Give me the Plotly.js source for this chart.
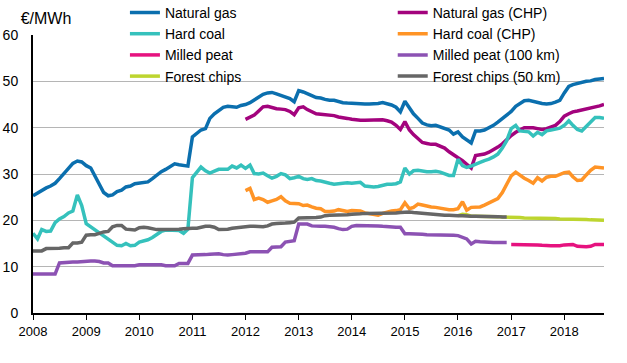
<!DOCTYPE html>
<html>
<head>
<meta charset="utf-8">
<script src="https://cdn.plot.ly/plotly-3.0.1.min.js"></script>
<style>html,body{margin:0;padding:0;background:#fff}#chart{width:627px;height:363px}</style>
</head>
<body>
<div id="chart"></div>
<script>
// Monthly prices, €/MWh, from January 2008 (index 0) to October 2018 (index 129)
const startYear = 2008;
const monthCount = 130;

const unitLabel = "€/MWh";
const seriesNames = ["Natural gas", "Natural gas (CHP)", "Hard coal", "Hard coal (CHP)",
                     "Milled peat", "Milled peat (100 km)", "Forest chips", "Forest chips (50 km)"];
const tickYears = ["2008","2009","2010","2011","2012","2013","2014","2015","2016","2017","2018"];

// Natural gas, from 2008-01
const naturalGas = [
  25.3, 25.9, 26.3, 27.0, 27.4, 28.0, 29.0, 30.0, 31.2, 32.3, 32.8, 32.6,
  31.8, 31.3, 29.5, 27.5, 26.0, 25.3, 25.5, 26.2, 26.5, 27.2, 27.4, 27.9,
  28.0, 28.1, 28.3, 29.0, 29.8, 30.5, 31.0, 31.6, 32.2, 32.0, 31.8, 31.7,
  38.0, 38.9, 39.5, 39.8, 42.0, 43.0, 43.8, 44.4, 44.6, 44.5, 44.4, 44.8,
  45.0, 45.4, 46.0, 46.6, 47.2, 47.5, 47.6, 47.3, 47.0, 46.7, 46.3, 45.6,
  48.0, 47.7, 47.4, 46.9, 46.5, 46.4, 46.1, 45.9, 45.9, 45.6, 45.4, 45.3,
  45.2, 45.1, 45.1, 45.1, 45.1, 45.1, 45.2, 45.4, 45.2, 44.9, 44.4, 43.4,
  45.7, 44.2, 43.0, 42.0, 41.0, 40.6, 40.4, 40.5, 40.2, 39.8, 39.5, 38.6,
  39.1, 38.0, 37.3, 36.7, 39.3, 39.3, 39.5, 40.0, 40.5, 41.2, 42.0, 42.7,
  43.5, 44.6, 45.2, 45.8, 45.9, 45.6, 45.4, 45.2, 45.1, 45.2, 45.5, 45.9,
  47.5, 48.9, 49.3, 49.6, 49.8, 50.0, 50.1, 50.4, 50.5, 50.6
];

// Hard coal, from 2008-01
const hardCoal = [
  17.2, 16.0, 18.0, 17.6, 17.7, 19.5, 20.3, 20.8, 21.6, 22.0, 25.5, 23.2,
  19.3, 18.6, 18.0, 17.4, 16.8, 16.1, 15.3, 14.6, 14.5, 15.0, 14.5, 14.6,
  15.3, 15.5, 15.8, 16.3, 17.0, 17.6, 17.9, 17.9, 17.8, 17.8, 17.2, 18.1,
  29.2, 30.5, 31.5, 30.7, 30.2, 30.6, 31.0, 31.0, 31.0, 31.7, 31.3, 31.9,
  31.2, 31.9, 30.1, 30.0, 30.2, 29.6, 29.1, 29.5, 30.1, 29.8, 29.0, 29.2,
  29.5, 29.0, 28.8, 29.0, 28.6, 28.5, 28.2, 28.0, 27.8, 27.9, 28.0, 28.1,
  28.0, 28.2, 28.2, 27.4, 27.3, 27.2, 27.3, 27.5, 27.8, 27.8, 27.9, 28.3,
  31.3, 30.0, 30.7, 30.8, 30.6, 30.5, 30.5, 30.6, 30.4, 30.0, 29.7, 29.7,
  33.2, 31.8, 31.4, 31.7, 32.2, 32.5, 32.9, 33.2, 33.7, 34.3, 35.6, 37.2,
  39.8, 40.5, 39.3, 39.2, 39.1, 38.2, 39.0, 38.5, 39.3, 39.5, 39.7, 39.9,
  40.5, 41.5, 40.5, 39.6, 39.3, 40.3, 41.3, 42.2, 42.2, 42.0
];

// Natural gas (CHP), from 2012-01
const naturalGasCHP = [
  41.8, 42.3, 42.7, 43.6, 44.5, 44.6, 44.3, 44.1, 44.0, 43.9, 43.5, 42.8,
  44.3, 44.5, 43.9, 43.4, 43.0, 42.9, 42.8, 42.7, 42.6, 42.3, 42.2, 42.0,
  41.8, 41.6, 41.6, 41.6, 41.6, 41.6, 41.6, 41.7, 41.5, 41.2, 40.5, 39.6,
  41.3, 39.5, 38.5, 37.5, 36.8, 36.6, 36.4, 36.4, 36.0, 35.6, 34.8, 34.1,
  33.5, 32.9, 32.1, 31.3, 34.0, 34.1, 34.3, 34.7, 35.2, 35.8, 36.5, 37.4,
  38.3, 39.0, 39.5, 40.0, 40.0, 40.0, 39.8, 39.6, 39.8, 40.1, 40.5, 41.3,
  42.5, 43.0, 43.4, 43.6, 43.8, 43.9, 44.1, 44.4, 44.7, 45.0
];

// Hard coal (CHP), from 2012-01
const hardCoalCHP = [
  26.4, 26.9, 24.5, 24.8, 24.5, 23.9, 24.2, 24.5, 25.1, 24.2, 23.7, 23.6,
  23.6, 23.2, 23.3, 22.9, 22.6, 22.5, 21.9, 21.9, 22.0, 22.3, 22.0, 21.9,
  22.1, 22.0, 22.0, 21.6, 21.4, 21.2, 21.1, 21.5, 21.8, 22.0, 22.1, 22.3,
  23.8, 22.5, 22.8, 23.5, 23.3, 23.0, 22.9, 22.8, 22.6, 22.4, 22.3, 22.3,
  22.5, 24.0, 22.2, 22.8, 22.9, 22.9, 23.3, 23.8, 24.2, 24.7, 26.0, 27.6,
  29.6, 30.4, 29.7, 29.1, 28.6, 28.0, 29.2, 28.5, 29.3, 29.5, 29.5, 29.8,
  30.3, 30.4, 29.4, 28.6, 28.7, 29.8, 30.8, 31.5, 31.4, 31.3
];

// Milled peat, from 2017-01
const milledPeat = [
  14.8, 14.8, 14.8, 14.8, 14.8, 14.8, 14.7, 14.6, 14.5, 14.5, 14.5, 14.5,
  14.7, 14.8, 14.8, 14.4, 14.3, 14.3, 14.4, 14.8, 14.8, 14.8
];

// Milled peat (100 km), 2008-01 to 2016-12
const milledPeat100 = [
  8.4, 8.4, 8.4, 8.4, 8.4, 8.4, 10.8, 10.9, 10.9, 11.0, 11.0, 11.1,
  11.2, 11.2, 11.2, 11.1, 10.8, 10.8, 10.2, 10.2, 10.2, 10.2, 10.2, 10.2,
  10.4, 10.4, 10.4, 10.4, 10.4, 10.4, 10.2, 10.2, 10.2, 10.7, 10.7, 10.7,
  12.5, 12.5, 12.6, 12.6, 12.7, 12.8, 12.8, 12.6, 12.5, 12.6, 12.7, 12.8,
  12.9, 13.2, 13.2, 13.2, 13.2, 13.2, 14.2, 14.3, 14.3, 15.3, 15.5, 15.6,
  19.2, 19.3, 19.2, 18.8, 18.7, 18.7, 18.7, 18.6, 18.5, 18.2, 18.0, 18.1,
  18.7, 18.9, 18.9, 18.9, 18.9, 18.8, 18.8, 18.7, 18.6, 18.6, 18.5, 18.5,
  17.1, 17.1, 17.1, 17.1, 17.0, 16.9, 16.9, 16.8, 16.8, 16.8, 16.8, 16.8,
  16.7, 16.4, 16.0, 14.9, 15.5, 15.4, 15.3, 15.2, 15.2, 15.2, 15.2, 15.2
];

// Forest chips, from 2016-01
const forestChips = [
  21.0, 21.3, 21.2, 20.9, 20.9, 20.9, 20.9, 20.8, 20.8, 20.8, 20.7, 20.7,
  20.7, 20.6, 20.6, 20.5, 20.5, 20.5, 20.5, 20.5, 20.5, 20.4, 20.4, 20.3,
  20.3, 20.3, 20.2, 20.2, 20.2, 20.2, 20.1, 20.1, 20.0, 20.0
];

// Forest chips (50 km), 2008-01 to 2016-12
const forestChips50 = [
  13.4, 13.4, 13.4, 13.9, 13.9, 13.9, 14.0, 14.1, 14.1, 15.1, 15.1, 15.3,
  16.8, 16.9, 16.9, 17.2, 17.5, 17.6, 18.6, 18.9, 18.9, 18.1, 17.9, 17.9,
  18.4, 18.5, 18.4, 18.1, 18.0, 18.0, 18.0, 18.0, 18.0, 18.1, 18.2, 18.3,
  18.3, 18.3, 18.5, 18.7, 18.7, 18.5, 18.0, 18.0, 18.1, 18.3, 18.4, 18.5,
  18.7, 18.7, 18.7, 18.6, 18.6, 18.8, 19.2, 19.3, 19.3, 19.4, 19.5, 19.6,
  20.5, 20.5, 20.6, 20.6, 20.6, 20.7, 21.0, 21.1, 21.1, 21.2, 21.2, 21.2,
  21.3, 21.3, 21.4, 21.5, 21.5, 21.5, 21.5, 21.5, 21.6, 21.6, 21.6, 21.7,
  21.8, 21.8, 21.7, 21.6, 21.5, 21.4, 21.3, 21.2, 21.2, 21.1, 21.1, 21.0,
  21.0, 21.0, 20.9, 20.9, 20.9, 20.9, 20.9, 20.8, 20.8, 20.8, 20.7, 20.7
];

// month axis (time stamps only)
const months = [];
for (let i = 0; i < monthCount; i++) {
  const y = startYear + Math.floor(i / 12), m = (i % 12) + 1;
  months.push(y + "-" + (m < 10 ? "0" + m : m) + "-01");
}
function xFrom(dateStr, n) { const k = months.indexOf(dateStr); return months.slice(k, k + n); }

const colors = {
  ng: "#0b6fae", ngchp: "#a3037d", hc: "#35c1bc", hcchp: "#ff9426",
  mp: "#e6127f", mp100: "#8c52b3", fc: "#bdd52f", fc50: "#666666"
};

function tr(name, x, y, color, legendId) {
  return { type: "scatter", mode: "lines", name: name, x: x, y: y, legend: legendId,
           line: { color: color, width: 3.5 }, hoverinfo: "x+y+name" };
}

const data = [
  tr(seriesNames[0], xFrom("2008-01-01", naturalGas.length), naturalGas, colors.ng, "legend"),
  tr(seriesNames[1], xFrom("2012-01-01", naturalGasCHP.length), naturalGasCHP, colors.ngchp, "legend2"),
  tr(seriesNames[2], xFrom("2008-01-01", hardCoal.length), hardCoal, colors.hc, "legend"),
  tr(seriesNames[3], xFrom("2012-01-01", hardCoalCHP.length), hardCoalCHP, colors.hcchp, "legend2"),
  tr(seriesNames[4], xFrom("2017-01-01", milledPeat.length), milledPeat, colors.mp, "legend"),
  tr(seriesNames[5], xFrom("2008-01-01", milledPeat100.length), milledPeat100, colors.mp100, "legend2"),
  tr(seriesNames[6], xFrom("2016-01-01", forestChips.length), forestChips, colors.fc, "legend"),
  tr(seriesNames[7], xFrom("2008-01-01", forestChips50.length), forestChips50, colors.fc50, "legend2")
];

const font = "Arial, 'Liberation Sans', Helvetica, sans-serif";
const legendFont = { family: font, size: 14, color: "#000000" };

const layout = {
  width: 627, height: 363,
  margin: { l: 33, r: 23, t: 35, b: 50, pad: 0, autoexpand: false },
  paper_bgcolor: "#ffffff", plot_bgcolor: "#ffffff",
  font: { family: font, size: 13, color: "#000000" },
  title: {
    text: unitLabel, xref: "container", yref: "container",
    x: 0.033, xanchor: "left", y: 0.95, yanchor: "middle",
    font: { family: font, size: 16, color: "#000000" }
  },
  showlegend: true,
  legend: {
    orientation: "v", x: 0.161, xanchor: "left", y: 1.137, yanchor: "top",
    bgcolor: "rgba(255,255,255,0)", borderwidth: 0, traceorder: "normal",
    font: legendFont
  },
  legend2: {
    orientation: "v", x: 0.630, xanchor: "left", y: 1.137, yanchor: "top",
    bgcolor: "rgba(255,255,255,0)", borderwidth: 0, traceorder: "normal",
    font: legendFont
  },
  xaxis: {
    type: "date",
    range: [months[0], months[monthCount - 1]],
    tickvals: tickYears.map(y => y + "-01-01"),
    ticktext: tickYears,
    ticks: "outside", ticklen: 5, tickwidth: 1, tickcolor: "#000000",
    showline: true, linecolor: "#000000", linewidth: 2,
    showgrid: false, zeroline: false,
    tickfont: { family: font, size: 13, color: "#000000" },
    fixedrange: true
  },
  yaxis: {
    range: [0, 60], dtick: 10, tick0: 0,
    ticks: "", showline: true, linecolor: "#000000", linewidth: 2,
    showgrid: true, gridcolor: "#b5b5b5", gridwidth: 1, zeroline: false,
    ticklabelstandoff: 10,
    tickfont: { family: font, size: 14, color: "#000000" },
    fixedrange: true
  },
  shapes: [{
    // white legend box background hiding the top gridline behind the legend
    type: "rect", xref: "paper", yref: "paper", layer: "above",
    x0: 0.09, x1: 1.01, y0: 0.994, y1: 1.006,
    fillcolor: "#ffffff", line: { width: 0 }
  }]
};

Plotly.newPlot("chart", data, layout, { displayModeBar: false, staticPlot: true });
</script>
</body>
</html>
